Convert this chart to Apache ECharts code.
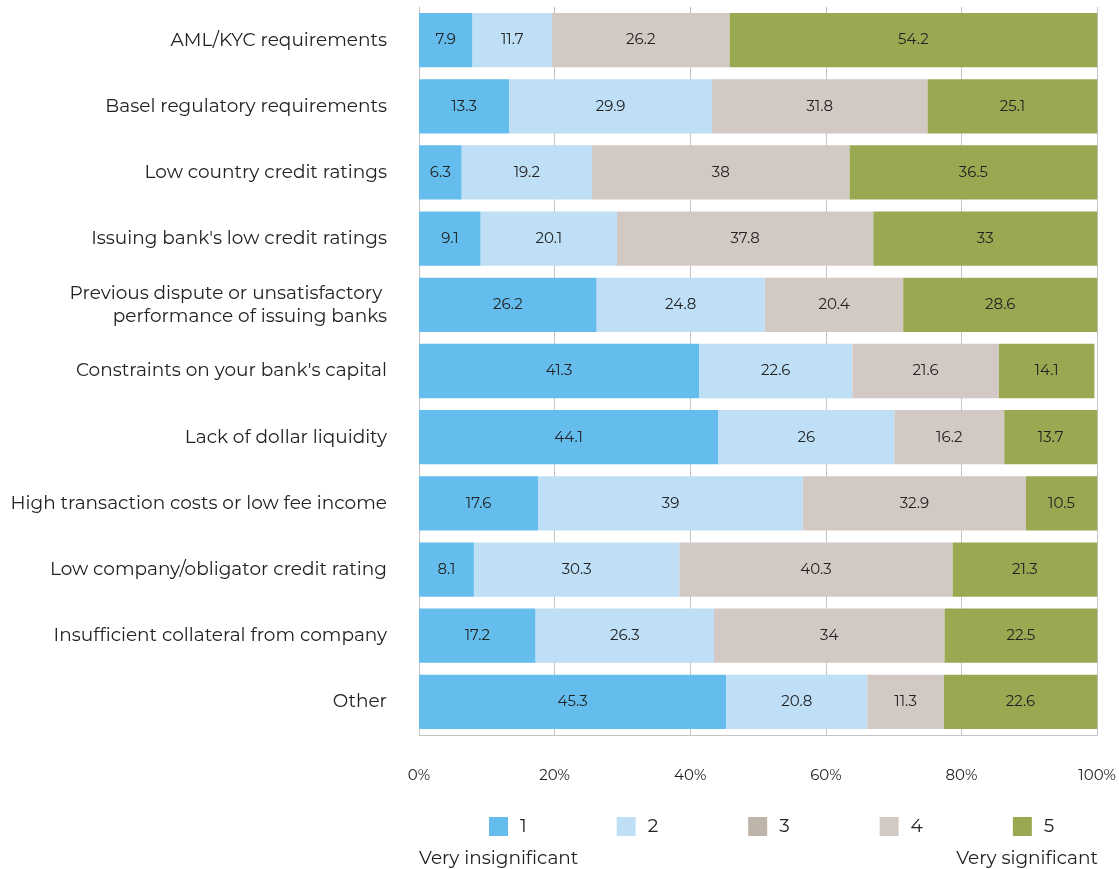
<!DOCTYPE html>
<html>
<head>
<meta charset="utf-8">
<script src="https://cdn.jsdelivr.net/npm/echarts@6/dist/echarts.min.js"></script>
<style>
  html, body { margin: 0; padding: 0; background: #fff; }
  #chart { width: 1119px; height: 869px; }
</style>
</head>
<body>
<div id="chart"></div>
<script>
const categories = [
  'AML/KYC requirements',
  'Basel regulatory requirements',
  'Low country credit ratings',
  "Issuing bank's low credit ratings",
  'Previous dispute or unsatisfactory \nperformance of issuing banks',
  "Constraints on your bank's capital",
  'Lack of dollar liquidity',
  'High transaction costs or low fee income',
  'Low company/obligator credit rating',
  'Insufficient collateral from company',
  'Other'
]
const score1 = [7.9, 13.3, 6.3, 9.1, 26.2, 41.3, 44.1, 17.6, 8.1, 17.2, 45.3]
const score2 = [11.7, 29.9, 19.2, 20.1, 24.8, 22.6, 26, 39, 30.3, 26.3, 20.8]
const score3 = [0, 0, 0, 0, 0, 0, 0, 0, 0, 0, 0]
const score4 = [26.2, 31.8, 38, 37.8, 20.4, 21.6, 16.2, 32.9, 40.3, 34, 11.3]
const score5 = [54.2, 25.1, 36.5, 33, 28.6, 14.1, 13.7, 10.5, 21.3, 22.5, 22.6]
const seriesNames = ['1', '2', '3', '4', '5']
const colors = ['#64bdec', '#bedff6', '#beb4aa', '#d3c9c4', '#9aa852']

const font = 'Montserrat, "Noto Sans", sans-serif'
const chart = echarts.init(document.getElementById('chart'))

const makeSeries = (name, data, color) => ({
  name,
  type: 'bar',
  stack: 'total',
  data,
  barWidth: '82%',
  itemStyle: { color },
  label: {
    show: true,
    position: 'inside',
    color: '#222',
    fontFamily: font,
    fontSize: 15,
    formatter: p => (p.value ? String(p.value) : '')
  }
})

chart.setOption({
  animation: false,
  textStyle: { fontFamily: font },
  grid: { left: 419, right: 21, top: 7, bottom: 134, containLabel: false },
  legend: {
    top: 812,
    left: 484,
    itemWidth: 19,
    itemHeight: 19,
    itemGap: 90,
    icon: 'rect',
    textStyle: { fontSize: 18.5, color: '#222', fontFamily: font, padding: [0, 0, 0, 7] },
    data: seriesNames
  },
  xAxis: {
    type: 'value',
    min: 0,
    max: 100,
    interval: 20,
    axisLabel: { formatter: '{value}%', fontSize: 15, color: '#222', margin: 33 },
    axisLine: { show: true, lineStyle: { color: '#c4c4c4' } },
    axisTick: { show: false },
    splitLine: { show: true, lineStyle: { color: '#c4c4c4' } }
  },
  yAxis: {
    type: 'category',
    inverse: true,
    data: categories,
    axisLine: { show: true, lineStyle: { color: '#c4c4c4' } },
    axisTick: { show: false },
    axisLabel: { fontSize: 18.5, color: '#222', margin: 32, lineHeight: 23 }
  },
  graphic: [
    { type: 'text', left: 419, top: 849, style: { text: 'Very insignificant', fontSize: 18.5, fill: '#222', fontFamily: font } },
    { type: 'text', right: 21, top: 849, style: { text: 'Very significant', fontSize: 18.5, fill: '#222', fontFamily: font } }
  ],
  series: [
    makeSeries(seriesNames[0], score1, colors[0]),
    makeSeries(seriesNames[1], score2, colors[1]),
    makeSeries(seriesNames[2], score3, colors[2]),
    makeSeries(seriesNames[3], score4, colors[3]),
    makeSeries(seriesNames[4], score5, colors[4])
  ]
})
</script>
</body>
</html>
